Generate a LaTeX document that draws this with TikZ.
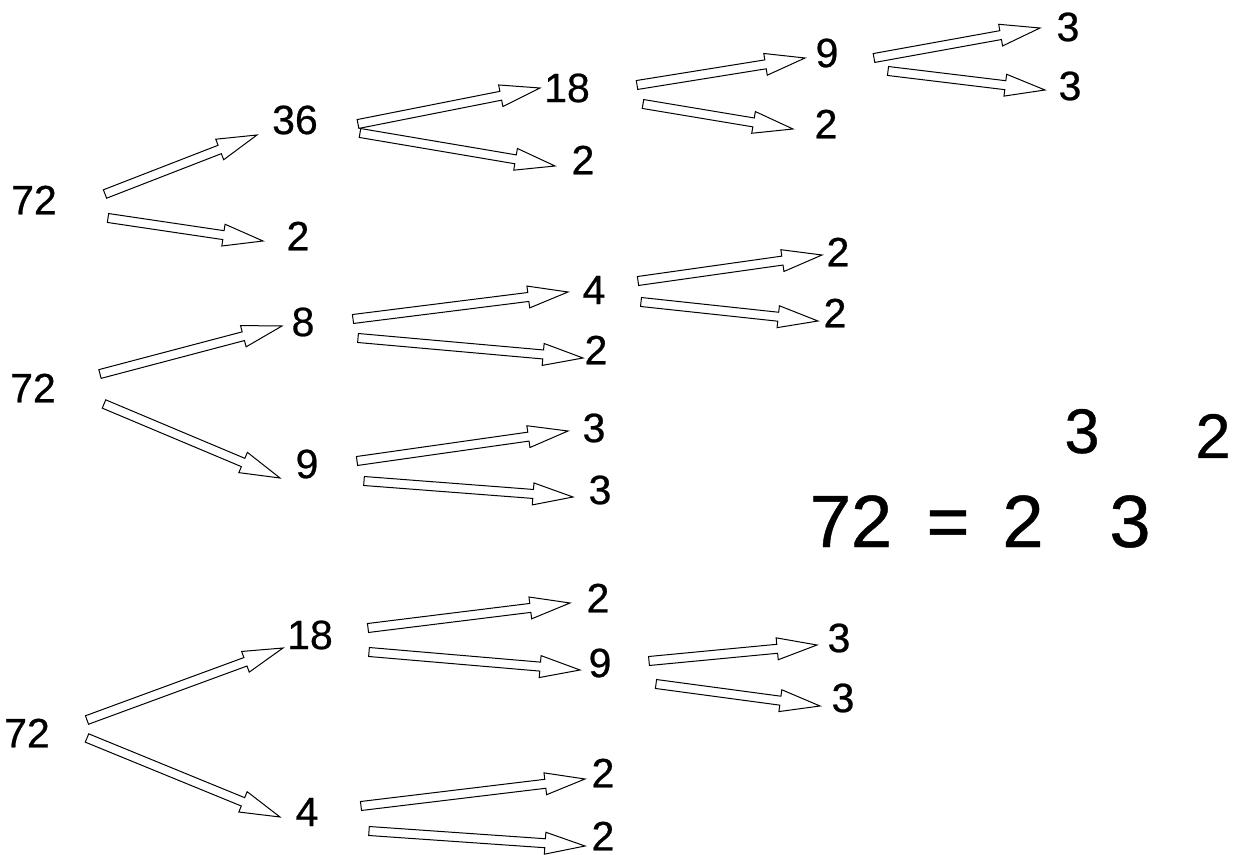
\documentclass[tikz,border=0pt]{standalone}
\usepackage{fontspec}
\setmainfont{Liberation Sans}
\newfontfamily\numfont[FakeBold=0.6]{Liberation Sans}
\usetikzlibrary{calc}

% hollow block arrow from tail to tip (pixel coordinates)
\newcommand{\hollowarrow}[2]{%
  \coordinate (tail) at (#1);
  \coordinate (tip) at (#2);
  \coordinate (hb) at ($(tip)!20pt!(tail)$);
  \draw[arrowline] ($(tail)!2.25pt!90:(tip)$) -- ($(hb)!2.25pt!90:(tip)$) -- ($(hb)!5.5pt!90:(tip)$)
    -- (tip) -- ($(hb)!5.5pt!-90:(tip)$) -- ($(hb)!2.25pt!-90:(tip)$) -- ($(tail)!2.25pt!-90:(tip)$) -- cycle;}

\begin{document}
\begin{tikzpicture}[x=0.5pt, y=-0.5pt,
    num/.style={inner sep=0pt, font=\numfont\fontsize{20.5}{24}\selectfont},
    bignum/.style={inner sep=0pt, anchor=base, font=\numfont\fontsize{37}{42}\selectfont},
    expnum/.style={inner sep=0pt, anchor=base, font=\numfont\fontsize{31.5}{36}\selectfont},
    arrowline/.style={draw=black, fill=white, line width=0.5pt, line join=miter}]
    \useasboundingbox (0,0) rectangle (1248,855);

    % First tree: 72 = 36 x 2
    \node[num] (topA) at (34,200) {72};
    \node[num] (top36) at (295,120) {36};
    \node[num] (top2a) at (298,236) {2};
    \node[num] (top18) at (567,88) {18};
    \node[num] (top2b) at (583,160) {2};
    \node[num] (top9) at (827,53) {9};
    \node[num] (top2c) at (826,124) {2};
    \node[num] (top3a) at (1068,27) {3};
    \node[num] (top3b) at (1070,86) {3};
    \hollowarrow{105,194}{257,135}
    \hollowarrow{108,218}{263,241}
    \hollowarrow{358,124}{540,88}
    \hollowarrow{360,133}{555,166}
    \hollowarrow{637,85}{805,58}
    \hollowarrow{643,104}{793,129}
    \hollowarrow{874,58}{1040,28}
    \hollowarrow{888,71}{1045,90}

    % Second tree: 72 = 8 x 9
    \node[num] (midA) at (33,388) {72};
    \node[num] (mid8) at (303,322) {8};
    \node[num] (mid9) at (307,464) {9};
    \node[num] (mid4) at (594,290) {4};
    \node[num] (mid2a) at (596,350) {2};
    \node[num] (mid2b) at (838,252) {2};
    \node[num] (mid2c) at (835,313) {2};
    \node[num] (mid3a) at (594,428) {3};
    \node[num] (mid3b) at (600,490) {3};
    \hollowarrow{100,374}{282,326}
    \hollowarrow{104,404}{280,478}
    \hollowarrow{353,319}{568,292}
    \hollowarrow{358,338}{583,358}
    \hollowarrow{638,281}{822,255}
    \hollowarrow{641,302}{818,321}
    \hollowarrow{357,461}{568,431}
    \hollowarrow{364,481}{573,497}

    % Third tree: 72 = 18 x 4
    \node[num] (lowA) at (27,733) {72};
    \node[num] (low18) at (310,635) {18};
    \node[num] (low4) at (307,812) {4};
    \node[num] (low2a) at (598,598) {2};
    \node[num] (low9) at (600,663) {9};
    \node[num] (low3a) at (839,638) {3};
    \node[num] (low3b) at (843,698) {3};
    \node[num] (low2b) at (603,773) {2};
    \node[num] (low2c) at (603,836) {2};
    \hollowarrow{87,720}{283,648}
    \hollowarrow{87,738}{280,817}
    \hollowarrow{368,628}{570,603}
    \hollowarrow{369,652}{580,670}
    \hollowarrow{649,661}{817,645}
    \hollowarrow{656,684}{820,706}
    \hollowarrow{361,806}{585,779}
    \hollowarrow{369,831}{585,846}

    % Result
    \node[bignum] (res72) at (851,547) {72};
    \node[bignum] (reseq) at (948,547) {=};
    \node[bignum] (res2) at (1023,547) {2};
    \node[bignum] (res3) at (1130,547) {3};
    \node[expnum] (exp3) at (1082,453) {3};
    \node[expnum] (exp2) at (1213,458) {2};
\end{tikzpicture}
\end{document}
